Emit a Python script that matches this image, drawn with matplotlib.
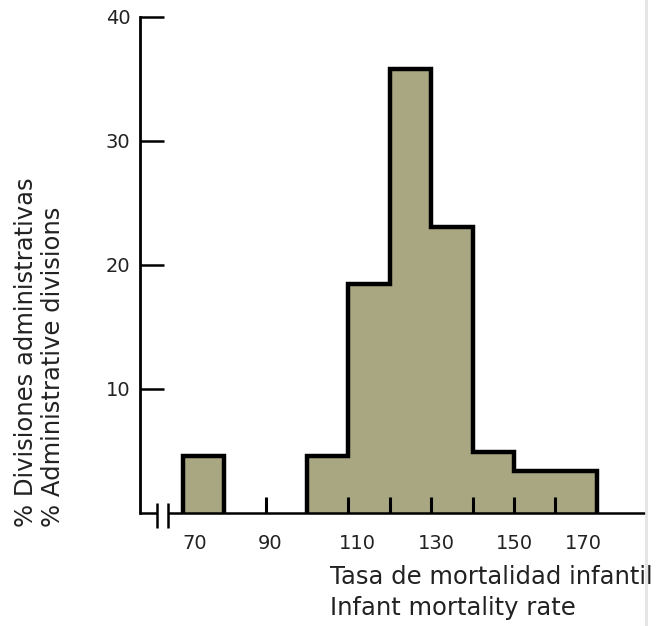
import matplotlib
matplotlib.use('Agg')
import matplotlib.pyplot as plt
from matplotlib.lines import Line2D

# ---- data ----
bin_edges = [70, 80, 100, 110, 120, 130, 140, 150, 170]
percent = [4.6, 0, 4.6, 18.5, 35.8, 23.1, 4.9, 3.4]
y_ticks = [10, 20, 30, 40]
x_tick_marks = [90, 110, 120, 130, 140, 150, 160]
x_tick_labels = ['70', '90', '110', '130', '150', '170']
x_label_pos = [72.9, 91.1, 112.1, 131.2, 150.2, 166.7]
xlabel_lines = ['Tasa de mortalidad infantil', 'Infant mortality rate']
ylabel_lines = ['% Divisiones administrativas', '% Administrative divisions']

plt.rcParams['font.family'] = ['DejaVu Sans']
FILL = '#a9a682'
TXT = '#222222'

W, H = 661, 626
fig = plt.figure(figsize=(W / 100, H / 100), dpi=100)

left_px, right_px, top_px, base_px = 140, 646, 17, 513
ax = fig.add_axes([left_px / W, 1 - base_px / H,
                   (right_px - left_px) / W, (base_px - top_px) / H])
px_per_unit = 4.14
x0 = 100 - (307 - left_px) / px_per_unit
x1 = x0 + (right_px - left_px) / px_per_unit
ax.set_xlim(x0, x1)
ax.set_ylim(0, 40)

# filled histogram
ax.stairs(percent, bin_edges, fill=True, color=FILL, linewidth=0, zorder=1)

# outline per contiguous run of non-zero bins
run_vals, run_edges = [], []
for i, v in enumerate(percent + [0]):
    if i < len(percent) and v > 0:
        if not run_vals:
            run_edges = [bin_edges[i]]
        run_vals.append(v)
        run_edges.append(bin_edges[i + 1])
    elif run_vals:
        ax.stairs(run_vals, run_edges, baseline=0, fill=False, color='black',
                  linewidth=3.2, joinstyle='miter', zorder=2)
        run_vals, run_edges = [], []

# spines
for s in ['top', 'right', 'bottom']:
    ax.spines[s].set_visible(False)
ax.spines['left'].set_linewidth(2.0)

# y ticks
ax.set_yticks(y_ticks)
ax.tick_params(axis='y', direction='in', length=17, width=1.8, pad=7,
               labelsize=14, labelcolor=TXT)

# x ticks: labels (major, no mark) and marks (minor, inward)
ax.set_xticks(x_label_pos, x_tick_labels)
ax.tick_params(axis='x', which='major', length=0, pad=15, labelsize=14,
               labelcolor=TXT)
ax.set_xticks(x_tick_marks, minor=True)
ax.tick_params(axis='x', which='minor', direction='in', length=11.5, width=2.2)

# broken baseline
span = right_px - left_px
hgt = base_px - top_px
a = (157 - left_px) / span
b = (168 - left_px) / span
kw = dict(transform=ax.transAxes, color='black', clip_on=False,
          solid_capstyle='butt', zorder=3)
ax.plot([0, a], [0, 0], lw=1.8, **kw)
ax.plot([b, 1], [0, 0], lw=1.8, **kw)
for xx in (a, b):
    ax.plot([xx, xx], [-15 / hgt, 10 / hgt], lw=1.8, **kw)

# axis titles
tkw = dict(fontsize=17.5, color=TXT, rotation_mode='anchor',
           ha='left', va='baseline')
fig.text(33 / W, 1 - 527 / H, ylabel_lines[0], rotation=90, **tkw)
fig.text(60 / W, 1 - 527 / H, ylabel_lines[1], rotation=90, **tkw)
fig.text(330 / W, 1 - 584 / H, xlabel_lines[0], **tkw)
fig.text(330 / W, 1 - 615 / H, xlabel_lines[1], **tkw)

# page edge line from the scan
fig.add_artist(Line2D([646 / W, 646 / W], [0, 1], color='#e4e4e4', lw=2))

fig.savefig('out.png', dpi=100)
